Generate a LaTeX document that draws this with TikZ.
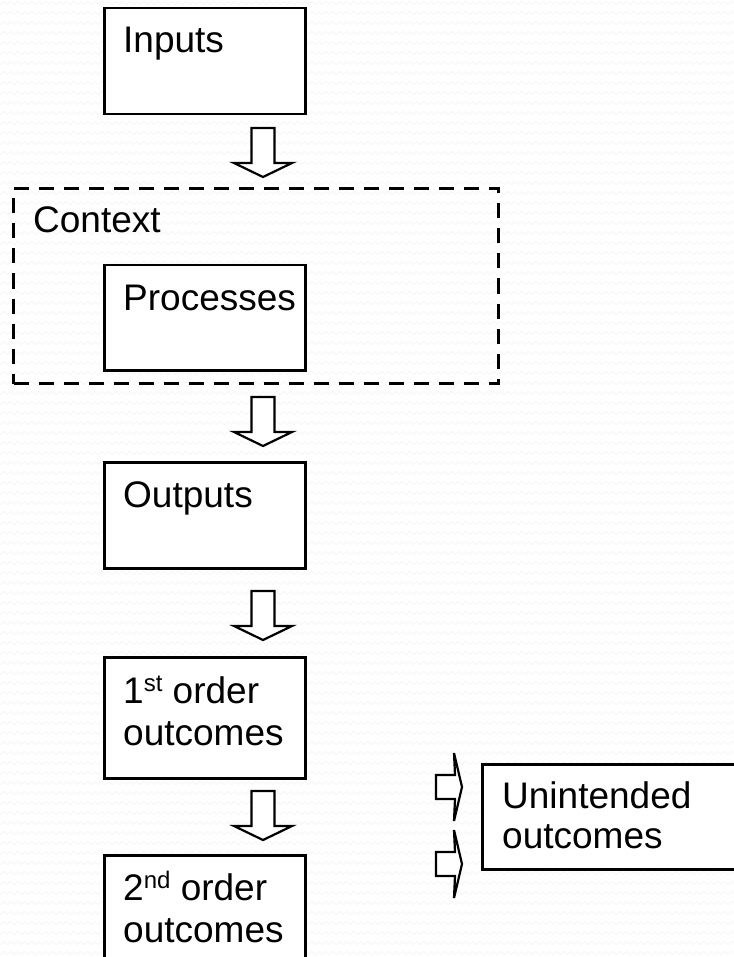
\documentclass[tikz,border=0pt]{standalone}
\usepackage{fontspec}
\setmainfont{Liberation Sans}
\usetikzlibrary{decorations.pathmorphing}
\newcommand\supr[1]{\raisebox{12pt}{\fontsize{24}{24}\selectfont #1}}
\begin{document}
\begin{tikzpicture}[x=1pt,y=-1pt,
  box/.style={draw=black, line width=2.5pt, fill=white, inner sep=0pt, anchor=north west},
  ctxbox/.style={draw=black, line width=3pt, dash pattern=on 15pt off 10pt, inner sep=0pt, anchor=north west},
  lbl/.style={anchor=base west, inner sep=0pt, font=\fontsize{37}{42}\selectfont},
  barrow/.style={draw=black, line width=2.2pt, fill=white, line join=miter},
  texture/.style={draw=black!4, line width=0.7pt, decorate, decoration={zigzag, segment length=7pt, amplitude=1.6pt}},
  darrow/.pic={\draw[barrow] (-11.5,0) -- (11.5,0) -- (11.5,35) -- (29,35) -- (0,49) -- (-29,35) -- (-11.5,35) -- cycle;},
  rarrow/.pic={\draw[barrow] (0,0) -- (19,0) -- (18,-22) -- (26,12) -- (18,46) -- (19,24) -- (0,24) -- cycle;}
]
\useasboundingbox (0,0) rectangle (733,957);
\fill[white] (0,0) rectangle (733,957);
\foreach \r in {0,...,96} \draw[texture] (-5,{\r*10+3}) -- (745,{\r*10+3});

% boxes
\node[box, minimum width=201pt, minimum height=106pt] (inputs) at (103,7) {};
\node[ctxbox, minimum width=485pt, minimum height=195pt] (context) at (12,187) {};
\node[box, minimum width=201pt, minimum height=105pt] (processes) at (103,264) {};
\node[box, minimum width=201pt, minimum height=106pt] (outputs) at (103,461) {};
\node[box, minimum width=201pt, minimum height=121pt] (first) at (103,656) {};
\node[box, minimum width=201pt, minimum height=120pt] (second) at (103,854) {};
\node[box, minimum width=270pt, minimum height=105pt] (unintended) at (481,763) {};

% labels
\node[lbl] (tInputs) at (123,53) {Inputs};
\node[lbl] (tContext) at (33,233) {Context};
\node[lbl] (tProcesses) at (123,310) {Processes};
\node[lbl] (tOutputs) at (123,507) {Outputs};
\node[lbl] (tFirstA) at (123,703) {1\supr{st} order};
\node[lbl] (tFirstB) at (123,745) {outcomes};
\node[lbl] (tSecondA) at (123,900) {2\supr{nd} order};
\node[lbl] (tSecondB) at (123,942) {outcomes};
\node[lbl] (tUnA) at (502,808) {Unintended};
\node[lbl] (tUnB) at (502,848) {outcomes};

% block arrows
\pic at (263,128) {darrow};
\pic at (263,397) {darrow};
\pic at (263,591) {darrow};
\pic at (263,791) {darrow};
\pic at (436,775) {rarrow};
\pic at (436,852) {rarrow};
\end{tikzpicture}
\end{document}
